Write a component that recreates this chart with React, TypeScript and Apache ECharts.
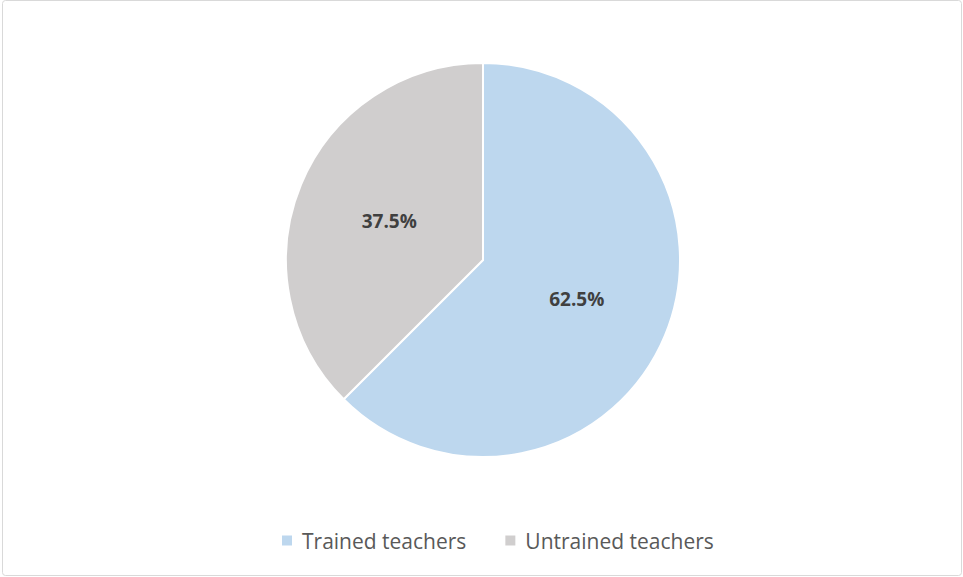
import React, { useEffect, useRef } from "react";
import * as echarts from "echarts";

const categories = ["Trained teachers", "Untrained teachers"];
const values = [62.5, 37.5];
const colors = ["#BDD7EE", "#D0CECE"];

export default function App() {
  const ref = useRef<HTMLDivElement>(null);
  useEffect(() => {
    if (!ref.current) return;
    const chart = echarts.init(ref.current, null, { renderer: "svg" });
    chart.setOption({
      animation: false,
      backgroundColor: "#ffffff",
      graphic: [
        {
          type: "rect",
          shape: { x: 2.5, y: 0.5, width: 959, height: 575, r: 3 },
          style: { fill: "none", stroke: "#d9d9d9", lineWidth: 1 },
          silent: true,
        },
      ],
      legend: {
        data: categories,
        left: 275,
        top: 525,
        itemWidth: 12,
        itemHeight: 12,
        itemGap: 37,
        icon: "rect",
        textStyle: {
          fontFamily: "Open Sans",
          fontSize: 21,
          color: "#595959",
          padding: [0, 0, 0, 4],
        },
      },
      series: [
        {
          type: "pie",
          center: [483, 260],
          radius: 197,
          startAngle: 90,
          clockwise: true,
          data: categories.map((name, i) => ({
            name,
            value: values[i],
            itemStyle: { color: colors[i] },
          })),
          itemStyle: { borderColor: "#ffffff", borderWidth: 2 },
          label: {
            show: true,
            position: "inside",
            formatter: (p: any) => p.value.toFixed(1) + "%",
            fontFamily: "Open Sans",
            fontWeight: "bold",
            fontSize: 19,
            color: "#404040",
          },
          labelLine: { show: false },
          emphasis: { disabled: true },
        },
      ],
    });
    return () => chart.dispose();
  }, []);
  return (
    <div
      ref={ref}
      style={{ position: "fixed", left: 0, top: 0, width: 963, height: 577 }}
    />
  );
}
